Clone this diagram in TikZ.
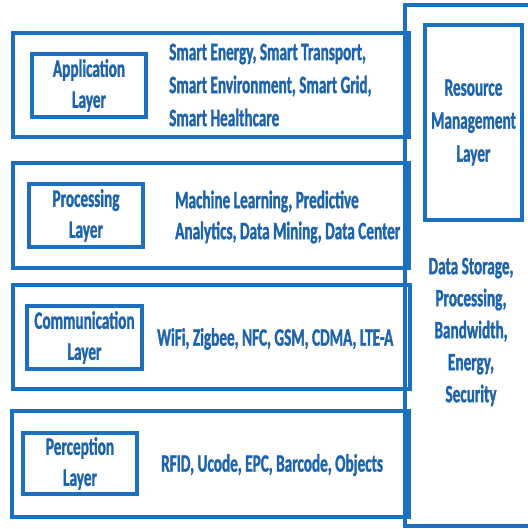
\documentclass[tikz,border=0pt]{standalone}
\usepackage{fontspec}
\newfontfamily\lbl{Carlito}[UprightFont=* Bold, FakeStretch=0.61, FakeBold=1.2]
\definecolor{boxblue}{RGB}{28,112,192}
\definecolor{txtblue}{RGB}{30,100,172}
\tikzset{
  layerbox/.style={draw=boxblue, line width=3.4pt, rectangle, inner sep=0pt},
  namebox/.style={draw=boxblue, line width=3.4pt, rectangle, inner sep=0pt, align=center,
    text=txtblue, font={\lbl\fontsize{25}{31}\selectfont}},
  lbltext/.style={inner sep=0pt, align=left, text=txtblue,
    font={\lbl\fontsize{25}{31}\selectfont}},
}
\begin{document}
\begin{tikzpicture}[x=1pt,y=-1pt]
\useasboundingbox (0,0) rectangle (527,529);
\fill[white] (0,0) rectangle (527,529);
% resource management outer frame (open to the right)
\coordinate (rtop) at (560,5);
\coordinate (rbot) at (560,526);
\node[inner sep=0pt, minimum size=0pt] (rtl) at (405,5) {};
\node[inner sep=0pt, minimum size=0pt] (rbl) at (405,526) {};
\draw[boxblue, line width=3.4pt] (rtop) -- (rtl.center) -- (rbl.center) -- (rbot);
\node[namebox, minimum width=97pt, minimum height=195pt, font={\lbl\fontsize{25}{33}\selectfont}] (resin) at (473.5,122.5) {Resource\\Management\\Layer};
\node[lbltext, align=center, font={\lbl\fontsize{25}{32}\selectfont}] (restext) at (471,332) {Data Storage,\\Processing,\\Bandwidth,\\Energy,\\Security};
% layers
\node[layerbox, minimum width=396pt, minimum height=104pt] (app) at (211,85) {};
\node[namebox, minimum width=114pt, minimum height=63pt] (appin) at (89,85.5) {Application\\Layer};
\node[lbltext, anchor=west, font={\lbl\fontsize{25}{33}\selectfont}] (apptext) at (169,85) {Smart Energy, Smart Transport,\\Smart Environment, Smart Grid,\\Smart Healthcare};
\node[layerbox, minimum width=396pt, minimum height=105pt] (proc) at (211,215.5) {};
\node[namebox, minimum width=114pt, minimum height=63pt] (procin) at (86,215.5) {Processing\\Layer};
\node[lbltext, anchor=west] (proctext) at (175,217) {Machine Learning, Predictive\\Analytics, Data Mining, Data Center};
\node[layerbox, minimum width=397pt, minimum height=104pt] (comm) at (211.5,337) {};
\node[namebox, minimum width=115pt, minimum height=63pt] (commin) at (84.5,337.5) {Communication\\Layer};
\node[lbltext, anchor=west] (commtext) at (157,339) {WiFi, Zigbee, NFC, GSM, CDMA, LTE-A};
\node[layerbox, minimum width=397pt, minimum height=106pt] (perc) at (210.5,464) {};
\node[namebox, minimum width=114pt, minimum height=61pt] (percin) at (80,463.5) {Perception\\Layer};
\node[lbltext, anchor=west] (perctext) at (161,465) {RFID, Ucode, EPC, Barcode, Objects};
\end{tikzpicture}
\end{document}
